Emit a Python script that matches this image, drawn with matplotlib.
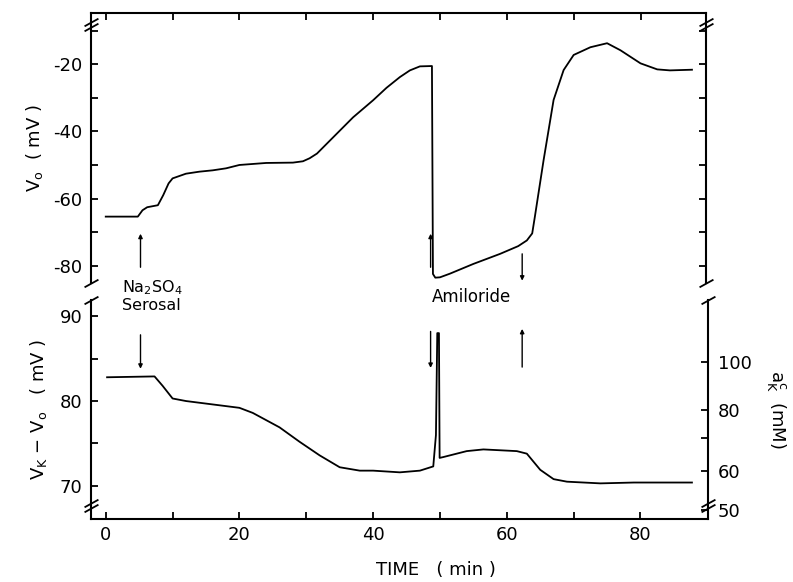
import numpy as np
import matplotlib
matplotlib.use("Agg")
import matplotlib.pyplot as plt

plt.rcParams['font.family'] = ['DejaVu Sans']
plt.rcParams['axes.unicode_minus'] = False

# membrane potential V_o (top trace)
t_top = [0, 4.8, 5.5, 6.2, 7.8, 8.6, 9.4, 10, 12, 14, 16, 18, 20, 24, 28, 29.5,
         30.5, 31.6, 34, 37, 40, 42, 44, 45.5, 47, 48.8, 48.95, 49.3, 50, 51.5,
         55, 59, 61.7, 63, 63.8, 64.2, 65.5, 67, 68.5, 70, 72.5, 75, 77, 80,
         82.5, 84.4, 87.7]
v_o = [-65.4, -65.4, -63.5, -62.6, -62.0, -59.0, -55.5, -54.0, -52.6, -52.0,
       -51.6, -51.0, -50.0, -49.4, -49.3, -48.9, -48.0, -46.6, -41.8, -35.8,
       -30.7, -27.0, -23.8, -21.8, -20.6, -20.5, -82.5, -83.6, -83.5, -82.4,
       -79.5, -76.5, -74.2, -72.5, -70.4, -65.4, -48.6, -30.6, -21.7, -17.2,
       -14.9, -13.7, -15.8, -19.7, -21.5, -21.8, -21.6]

# V_K - V_o (bottom trace)
t_bot = [0.2, 7.3, 8.5, 10, 12, 16, 20, 22, 26, 29, 32, 35, 38, 40, 44, 47,
         49.0, 49.4, 49.6, 49.85, 49.95, 50.5, 54, 56.5, 61.5, 63, 65, 67, 69,
         74, 79, 87.7]
vk_vo = [82.8, 82.9, 81.8, 80.3, 80.0, 79.6, 79.2, 78.6, 76.9, 75.2, 73.6,
         72.2, 71.8, 71.8, 71.6, 71.8, 72.3, 76.0, 88.0, 88.0, 73.3, 73.4,
         74.1, 74.3, 74.1, 73.8, 71.9, 70.8, 70.5, 70.3, 70.4, 70.4]

events = [5.2, 48.6, 62.3]
x_major = [0, 20, 40, 60, 80]
a_major = [50, 60, 80, 100]


def v_to_a(v):
    return 10 ** ((np.asarray(v, dtype=float) + 31.4) / 58.0)


def a_to_v(a):
    a = np.maximum(np.asarray(a, dtype=float), 1e-6)
    return 58.0 * np.log10(a) - 31.4


def brk(ax, x, y, mew=1.3):
    ax.plot([x], [y], transform=ax.transAxes, marker=[(-1, -0.55), (1, 0.55)],
            markersize=10, linestyle='none', color='k', mec='k', mew=mew,
            clip_on=False)


fig = plt.figure(figsize=(7.93, 5.82), dpi=100)
ax1 = fig.add_axes([0.1148, 0.5137, 0.7755, 0.4639])
ax2 = fig.add_axes([0.1148, 0.1082, 0.7780, 0.3763])

ax1.plot(t_top, v_o, color='k', lw=1.3)
ax2.plot(t_bot, vk_vo, color='k', lw=1.3)

ax1.set_xlim(-2.2, 89.8)
ax2.set_xlim(-2.2, 90.1)
ax1.set_ylim(-85.2, -4.7)
ax2.set_ylim(66.1, 91.9)

# top panel axes
ax1.spines['bottom'].set_visible(False)
for s in ['top', 'left', 'right']:
    ax1.spines[s].set_linewidth(1.5)
ax1.set_xticks(range(0, 90, 10))
ax1.set_yticks([-20, -40, -60, -80])
ax1.set_yticks(range(-80, -5, 10), minor=True)
ax1.tick_params(which='both', direction='in', length=5, width=1.3,
                top=True, bottom=False, right=True, labelbottom=False,
                labelsize=13, pad=6)
ax1.set_ylabel('V$_\\mathrm{o}$  ( mV )', fontsize=13, labelpad=6)

# bottom panel axes
ax2.spines['top'].set_visible(False)
ax2.spines['right'].set_visible(False)
for s in ['bottom', 'left']:
    ax2.spines[s].set_linewidth(1.5)
ax2.set_xticks(x_major)
ax2.set_xticks(range(0, 90, 10), minor=True)
ax2.set_yticks([70, 80, 90])
ax2.set_yticks([70, 75, 80, 85, 90], minor=True)
ax2.tick_params(which='both', direction='in', length=5, width=1.3,
                labelsize=13, pad=6)
ax2.tick_params(axis='x', pad=5)
ax2.set_ylabel('V$_\\mathrm{K}$ $-$ V$_\\mathrm{o}$   ( mV )', fontsize=13,
               labelpad=8)

sec = ax2.secondary_yaxis('right', functions=(v_to_a, a_to_v))
sec.spines['right'].set_linewidth(1.5)
sec.set_yticks(a_major)
sec.set_yticks([70], minor=True)
sec.tick_params(which='both', direction='in', length=5, width=1.3,
                labelsize=13, pad=7)
sec.set_ylabel('a$_\\mathrm{K}^\\mathrm{c}$  (mM)', fontsize=13, rotation=270,
               labelpad=26)

fig.text(436 / 793, 1 - 570 / 582, 'TIME   ( min )', ha='center', va='center',
         fontsize=13)

# breaks in the axes
for x in (0, 1):
    brk(ax1, x, 0.968)
    brk(ax1, x, 0.948)
    brk(ax1, x, 0.0)
    brk(ax2, x, 1.0)
    brk(ax2, x, 0.075)
    brk(ax2, x, 0.05)

# event arrows
arr = dict(arrowstyle='-|>', lw=1.0, color='k', mutation_scale=6,
           shrinkA=0, shrinkB=0)
ax1.annotate('', xy=(events[0], -70.5), xytext=(events[0], -80.5), arrowprops=arr)
ax1.annotate('', xy=(events[1], -70.5), xytext=(events[1], -80.5), arrowprops=arr)
ax1.annotate('', xy=(events[2], -84.5), xytext=(events[2], -76.5), arrowprops=arr)
ax2.annotate('', xy=(events[0], 83.8), xytext=(events[0], 87.8), arrowprops=arr)
ax2.annotate('', xy=(events[1], 83.9), xytext=(events[1], 88.2), arrowprops=arr)
ax2.annotate('', xy=(events[2], 88.5), xytext=(events[2], 84.0), arrowprops=arr)

fig.text(122 / 793, 1 - 288 / 582, 'Na$_2$SO$_4$', ha='left', va='center',
         fontsize=11.5)
fig.text(122 / 793, 1 - 306 / 582, 'Serosal', ha='left', va='center',
         fontsize=11.5)
fig.text(432 / 793, 1 - 297 / 582, 'Amiloride', ha='left', va='center',
         fontsize=12)

fig.savefig('out.png', dpi=100)
